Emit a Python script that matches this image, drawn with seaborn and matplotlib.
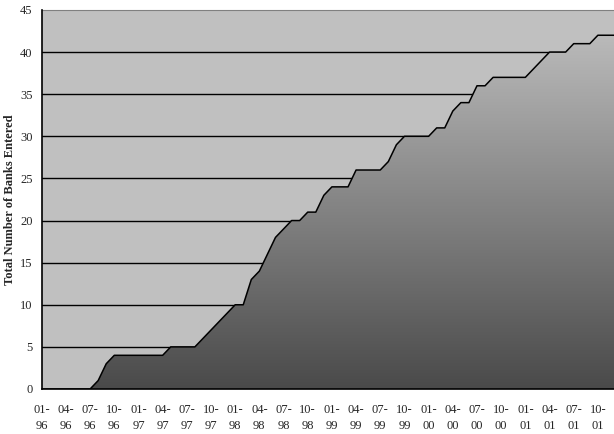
import numpy as np
import pandas as pd
import matplotlib
matplotlib.use('Agg')
from matplotlib import pyplot as plt
from matplotlib.colors import LinearSegmentedColormap
import seaborn as sns

# monthly, 01-96 .. 12-01
years = ['96', '97', '98', '99', '00', '01']
months = [f'{m:02d}-{y}' for y in years for m in range(1, 13)]
banks = [0, 0, 0, 0, 0, 0, 0, 1, 3, 4, 4, 4,
         4, 4, 4, 4, 5, 5, 5, 5, 6, 7, 8, 9,
         10, 10, 13, 14, 16, 18, 19, 20, 20, 21, 21, 23,
         24, 24, 24, 26, 26, 26, 26, 27, 29, 30, 30, 30,
         30, 31, 31, 33, 34, 34, 36, 36, 37, 37, 37, 37,
         37, 38, 39, 40, 40, 40, 41, 41, 41, 42, 42, 42]
y_ticks = [0, 5, 10, 15, 20, 25, 30, 35, 40, 45]

df = pd.DataFrame({'idx': range(len(months)), 'month': months, 'banks': banks})

sns.set_style('white')
plt.rcParams['font.family'] = ['Liberation Serif', 'DejaVu Serif']

fig = plt.figure(figsize=(6.14, 4.34), dpi=100)
ax = fig.add_axes([0.068, 0.1037, 0.932, 0.8733])
ax.set_facecolor('#c0c0c0')

# gridlines behind the area
for v in y_ticks[1:-1]:
    ax.axhline(v, color='black', lw=1.0, zorder=0.5)

# gradient-filled area
poly = ax.fill_between(df['idx'], df['banks'], 0, color='none', lw=0)
cmap = LinearSegmentedColormap.from_list('g', ['#4a4a4a', '#bababa'])
grad = np.linspace(0, 1, 256).reshape(-1, 1)
im = ax.imshow(grad, extent=[0, len(months) - 1, 0, max(banks)], origin='lower',
               aspect='auto', cmap=cmap, zorder=1)
im.set_clip_path(poly.get_paths()[0], transform=ax.transData)

sns.lineplot(data=df, x='idx', y='banks', color='black', lw=1.1, zorder=2, ax=ax)

ax.set_xlim(0, 70.57)
ax.set_ylim(0, 45)

ax.set_yticks(y_ticks)
ax.set_yticklabels([str(v) for v in y_ticks], fontsize=9)
ax.set_xticks(df['idx'])
ax.set_xticklabels([m.replace('-', '-\n') if i % 3 == 0 else '' for i, m in enumerate(months)],
                   fontsize=9, linespacing=1.45)
ax.tick_params(axis='both', direction='out', length=3.5, width=1, color='black', pad=3)
ax.tick_params(axis='x', length=3, pad=8)

ax.set_xlabel('')
ax.set_ylabel('Total Number of Banks Entered', fontsize=9, fontweight='bold', labelpad=3)

for s in ['left', 'bottom']:
    ax.spines[s].set_color('black')
    ax.spines[s].set_linewidth(1.2)
    ax.spines[s].set_zorder(3)
ax.spines['top'].set_color('#808080')
ax.spines['right'].set_visible(False)

fig.savefig('out.png', dpi=100)
